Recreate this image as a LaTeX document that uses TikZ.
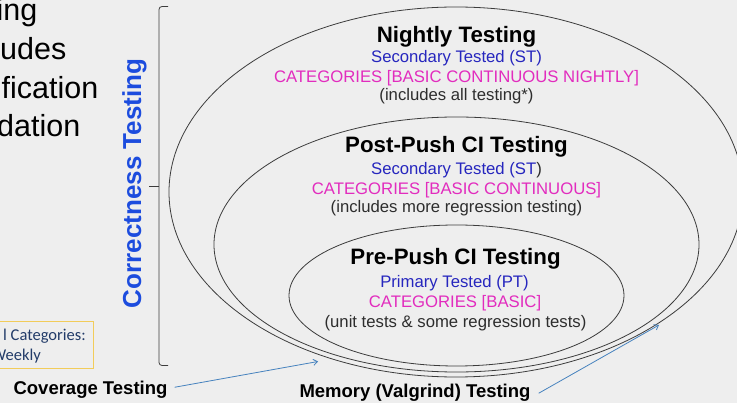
\documentclass[tikz,border=0pt]{standalone}
\usepackage{fontspec}
\setmainfont{Liberation Sans}
\newfontfamily\calib{Carlito}
\usetikzlibrary{arrows.meta}
\definecolor{bg}{RGB}{238,238,238}
\definecolor{ringgray}{RGB}{60,60,60}
\definecolor{stblue}{RGB}{38,38,190}
\definecolor{catmag}{RGB}{226,44,190}
\definecolor{corrblue}{RGB}{28,76,222}
\definecolor{arrblue}{RGB}{70,130,190}
\definecolor{txtgray}{RGB}{45,45,45}
\definecolor{boxgold}{RGB}{242,204,90}
\definecolor{boxtext}{RGB}{35,60,105}
\begin{document}
\begin{tikzpicture}[x=1pt,y=-1pt,
  lbl/.style={inner sep=0pt, anchor=base, font=\fontsize{16.7}{20}\selectfont},
  ttl/.style={inner sep=0pt, anchor=base, text=black, font=\fontsize{22.3}{26}\selectfont\bfseries},
  ring/.style={draw=ringgray, line width=0.8pt},
  arr/.style={draw=arrblue, line width=0.8pt, -{Straight Barb[length=4pt,width=6pt]}},
  bigtxt/.style={inner sep=0pt, anchor=base east, text=black, font=\fontsize{30.5}{36}\selectfont},
  bottomlbl/.style={inner sep=0pt, anchor=base, text=black, font=\fontsize{18.5}{22}\selectfont\bfseries},
  boxtxt/.style={inner sep=0pt, anchor=base east, text=boxtext, font=\calib\fontsize{16.5}{19}\selectfont}]
\fill[bg] (0,0) rectangle (737,403);
\useasboundingbox (0,0) rectangle (737,403);
\clip (0,0) rectangle (737,403);

% left partial text (cut by the left edge, as in the reference)
\node[bigtxt] (l1) at (37.5,21) {ing};
\node[bigtxt] (l2) at (66.5,60) {udes};
\node[bigtxt] (l3) at (98.5,98.5) {fication};
\node[bigtxt] (l4) at (80.5,137) {dation};

% yellow box
\draw[draw=boxgold, line width=1pt] (-5,322) rectangle (93,369);
\node[boxtxt] (bx1) at (86,340.5) {l Categories:};
\node[boxtxt] (bx2) at (41,361) {Weekly};

% bracket
\draw[ring, rounded corners=3pt] (168,6.5) -- (159,6.5) -- (159,365.5) -- (168,365.5);
\draw[ring] (159,186) -- (149,186);
\node[rotate=90, anchor=base, inner sep=0pt, text=corrblue, font=\fontsize{26}{30}\selectfont\bfseries] (ct) at (141,183.3) {Correctness Testing};

% ellipses
\draw[ring] (456,192) ellipse [x radius=287pt, y radius=185pt];
\draw[ring] (456.5,244.5) ellipse [x radius=242.5pt, y radius=127.5pt];
\draw[ring] (456.5,295.5) ellipse [x radius=167.5pt, y radius=70.5pt];

% nightly
\node[ttl] (n1) at (456.5,43) {Nightly Testing};
\node[lbl, text=stblue] (n2) at (456.5,63) {Secondary Tested (ST)};
\node[lbl, text=catmag] (n3) at (456.5,83) {CATEGORIES [BASIC CONTINUOUS NIGHTLY]};
\node[lbl, text=txtgray] (n4) at (456.5,100.5) {(includes all testing*)};

% post-push
\node[ttl] (p1) at (456.5,153) {Post-Push CI Testing};
\node[lbl, text=txtgray] (p2) at (456.5,174.5) {\textcolor{stblue}{Secondary Tested (ST}{)}};
\node[lbl, text=catmag] (p3) at (456.5,194.5) {CATEGORIES [BASIC CONTINUOUS]};
\node[lbl, text=txtgray] (p4) at (456.5,213) {(includes more regression testing)};

% pre-push
\node[ttl] (q1) at (455.5,265) {Pre-Push CI Testing};
\node[lbl, text=stblue] (q2) at (454.5,288) {Primary Tested (PT)};
\node[lbl, text=catmag] (q3) at (455,308) {CATEGORIES [BASIC]};
\node[lbl, text=txtgray] (q4) at (455.5,327.5) {(unit tests \& some regression tests)};

% bottom labels and arrows
\node[bottomlbl] (cov) at (90.5,395) {Coverage Testing};
\node[bottomlbl] (mem) at (415,398) {Memory (Valgrind) Testing};
\coordinate (covtip) at (318,361.5);
\coordinate (memtip) at (659,325);
\draw[arr] ([xshift=7pt,yshift=3pt]cov.east) -- (covtip);
\draw[arr] ([xshift=8pt]mem.east) -- (memtip);
\end{tikzpicture}
\end{document}
